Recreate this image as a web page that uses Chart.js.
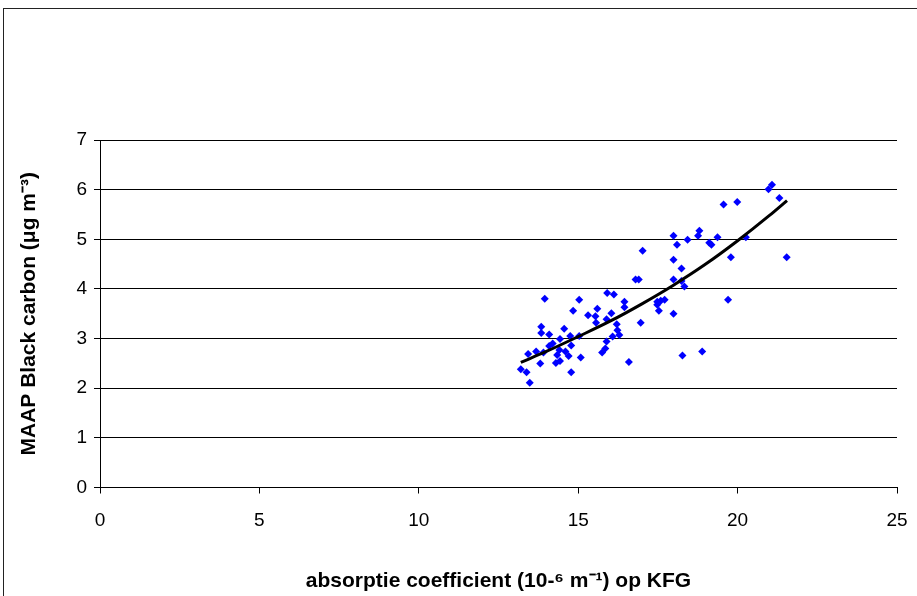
<!DOCTYPE html>
<html>
<head>
<meta charset="utf-8">
<script src="https://cdn.jsdelivr.net/npm/chart.js@4/dist/chart.umd.min.js"></script>
<style>
  html, body { margin: 0; padding: 0; background: #fff; overflow: hidden; }
  #frame { position: absolute; left: 3px; top: 8px; width: 1000px; height: 1000px; border: 1px solid #222; box-sizing: border-box; }
  #chart { position: absolute; left: 0; top: 0; }
</style>
</head>
<body>
<div id="frame"></div>
<canvas id="chart" width="917" height="596"></canvas>
<script>
// absorptie coefficient (10^-6 m^-1) vs MAAP black carbon
const absorptie = [
  17.02, 16.80, 16.90, 13.95, 15.03, 15.91, 16.12, 16.45, 16.45, 15.60,
  14.84, 15.31, 15.54, 15.56, 16.04, 15.89, 16.21, 16.23, 16.29, 16.08,
  15.89, 15.85, 15.75, 16.96, 16.59, 13.84, 13.84, 14.09, 14.56, 14.43,
  14.75, 15.03, 14.78, 14.20, 14.09, 13.91, 13.68, 13.43, 14.41, 14.60,
  14.34, 14.70, 14.30, 14.43, 15.08, 13.81, 13.20, 13.38, 14.78, 13.48,
  20.97, 21.08, 21.31, 19.56, 19.99, 17.99, 18.80, 18.76, 18.43, 18.10,
  19.11, 19.18, 19.37, 20.26, 17.99, 18.24, 19.79, 21.54, 17.99, 18.24,
  18.33, 17.48, 17.59, 17.71, 17.48, 17.53, 17.99, 19.70, 18.27, 18.89
];
const blackCarbon = [
  4.77, 4.19, 4.19, 3.80, 3.78, 3.92, 3.89, 3.74, 3.63, 3.60,
  3.56, 3.47, 3.45, 3.32, 3.51, 3.39, 3.29, 3.17, 3.07, 3.04,
  2.94, 2.80, 2.72, 3.32, 2.53, 3.24, 3.11, 3.08, 3.20, 2.99,
  3.05, 3.05, 2.86, 2.90, 2.85, 2.72, 2.74, 2.69, 2.77, 2.74,
  2.67, 2.65, 2.51, 2.55, 2.62, 2.50, 2.38, 2.32, 2.32, 2.11,
  6.01, 6.10, 5.83, 5.70, 5.75, 5.07, 5.17, 5.07, 4.99, 4.89,
  4.93, 4.89, 5.04, 5.04, 4.59, 4.41, 4.64, 4.64, 4.19, 4.16,
  4.05, 3.74, 3.76, 3.78, 3.68, 3.56, 3.50, 3.78, 2.66, 2.74
];

// trendline
const trendX = [13.2, 14, 15, 16, 17, 18, 19, 20, 21, 21.55];
const trendY = [2.52, 2.74, 3.04, 3.35, 3.70, 4.08, 4.50, 4.97, 5.48, 5.78];

const xTitle = 'absorptie coefficient (10-\u2076 m\u207B\u00B9) op KFG';
const yTitle = 'MAAP Black carbon (\u03BCg m\u207B\u00B3)';

const points = absorptie.map((x, i) => ({ x: x, y: blackCarbon[i] }));
const trend = trendX.map((x, i) => ({ x: x, y: trendY[i] }));

const tickFont = { family: 'Liberation Sans, Arial, sans-serif', size: 19 };
const titleFont = { family: 'Liberation Sans, Arial, sans-serif', size: 21, weight: 'bold' };

new Chart(document.getElementById('chart').getContext('2d'), {
  type: 'scatter',
  data: {
    datasets: [
      {
        label: 'trend',
        data: trend,
        showLine: true,
        borderColor: '#000',
        borderWidth: 3,
        pointRadius: 0,
        cubicInterpolationMode: 'monotone',
        order: 0,
      },
      {
        label: 'MAAP',
        data: points,
        pointStyle: 'rectRot',
        pointRadius: 4,
        backgroundColor: '#0000ff',
        borderColor: '#0000ff',
        borderWidth: 0,
        order: 1,
      },
    ],
  },
  options: {
    responsive: false,
    animation: false,
    layout: { padding: { left: 0, top: 140, right: 20, bottom: 0 } },
    plugins: {
      legend: { display: false },
      tooltip: { enabled: false },
    },
    scales: {
      x: {
        type: 'linear',
        min: 0,
        max: 25,
        afterFit: (scale) => {
          scale.height = 108.5;
          scale.paddingLeft = 0;
          scale.paddingRight = 0;
        },
        ticks: { stepSize: 5, color: '#000', font: tickFont, padding: 16, maxRotation: 0 },
        grid: { drawOnChartArea: false, drawTicks: true, tickLength: 6, color: '#000' },
        border: { display: true, color: '#000', width: 1 },
        title: { display: true, text: xTitle, color: '#000', font: titleFont, padding: { top: 0, bottom: 2 } },
      },
      y: {
        type: 'linear',
        min: 0,
        max: 7,
        afterFit: (scale) => {
          scale.width = 100;
          scale.paddingTop = 0;
          scale.paddingBottom = 0;
        },
        ticks: { stepSize: 1, color: '#000', font: tickFont, padding: 7 },
        grid: { drawOnChartArea: true, drawTicks: true, tickLength: 6, color: '#000' },
        border: { display: true, color: '#000', width: 1 },
        title: { display: true, text: yTitle, color: '#000', font: titleFont, padding: { top: 17, bottom: 0 } },
      },
    },
  },
});
</script>
</body>
</html>
